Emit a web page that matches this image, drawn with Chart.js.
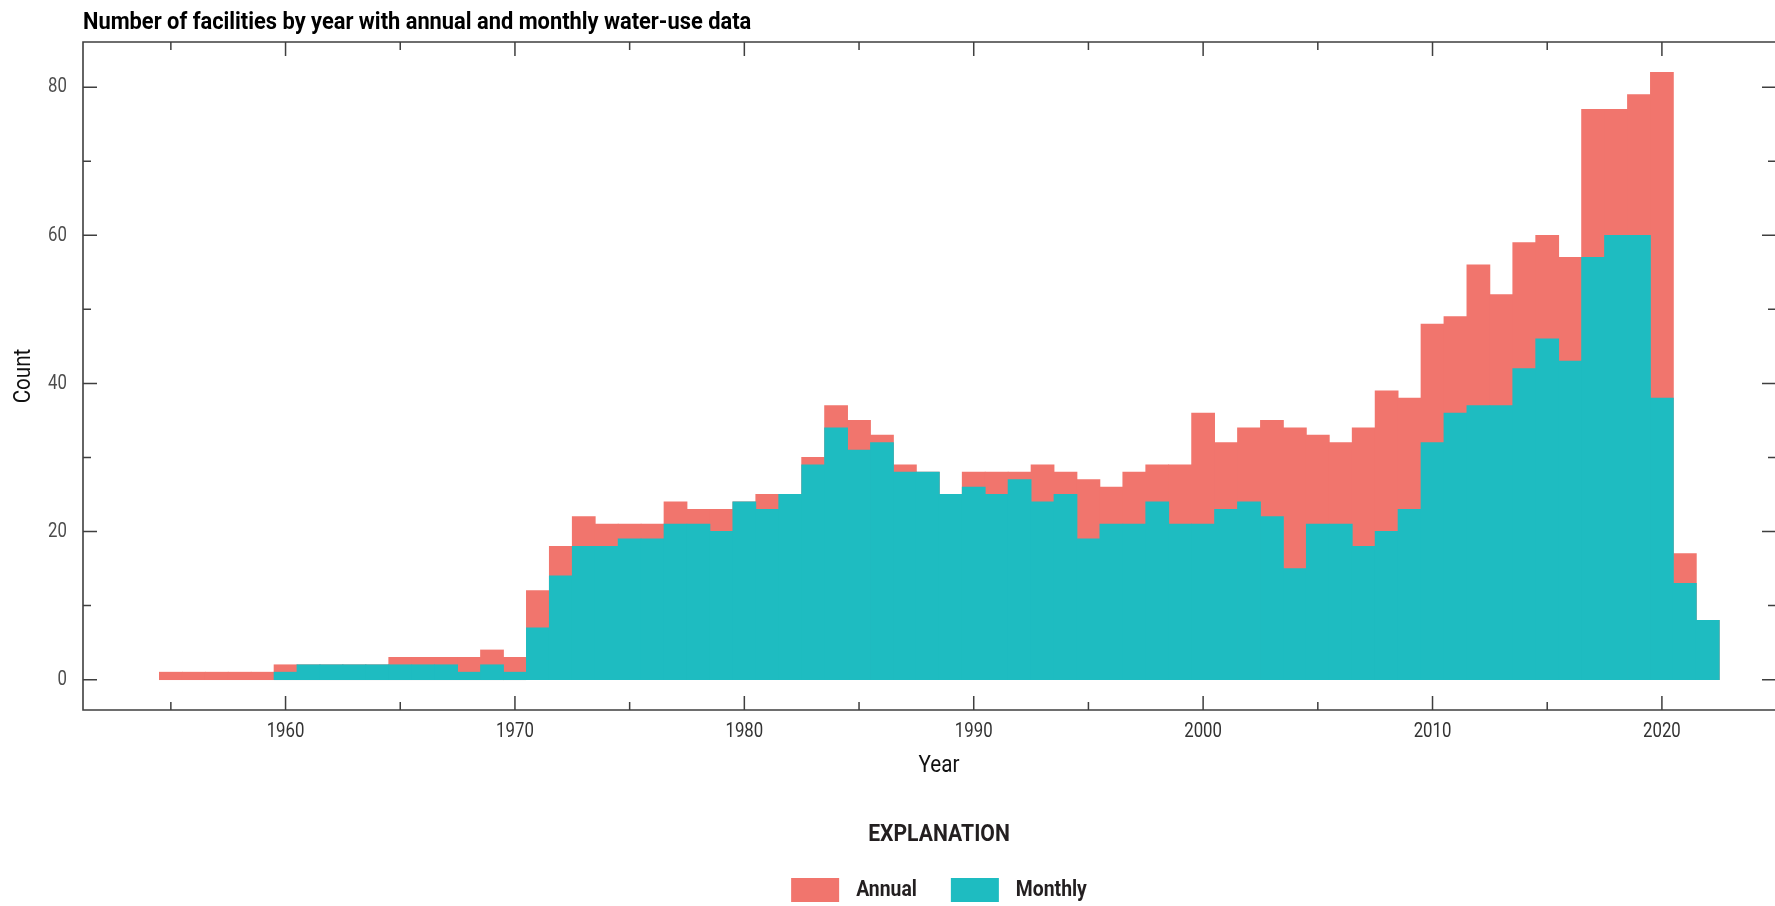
<!DOCTYPE html>
<html>
<head>
<meta charset="utf-8">
<title>Facilities with water-use data by year</title>
<script src="https://cdn.jsdelivr.net/npm/chart.js@4.4.0/dist/chart.umd.min.js"></script>
<style>
  html, body { margin: 0; padding: 0; background: #fff; overflow: hidden; }
  canvas { display: block; }
</style>
</head>
<body>
<canvas id="chart" width="1775" height="906"></canvas>
<script>
// Reporting years (one bar per year)
const years = [
  1955, 1956, 1957, 1958, 1959, 1960, 1961, 1962, 1963, 1964,
  1965, 1966, 1967, 1968, 1969, 1970, 1971, 1972, 1973, 1974,
  1975, 1976, 1977, 1978, 1979, 1980, 1981, 1982, 1983, 1984,
  1985, 1986, 1987, 1988, 1989, 1990, 1991, 1992, 1993, 1994,
  1995, 1996, 1997, 1998, 1999, 2000, 2001, 2002, 2003, 2004,
  2005, 2006, 2007, 2008, 2009, 2010, 2011, 2012, 2013, 2014,
  2015, 2016, 2017, 2018, 2019, 2020, 2021, 2022
];

// Facilities reporting annual water-use data
const annualCounts = [
  1, 1, 1, 1, 1, 2, 2, 2, 2, 2,
  3, 3, 3, 3, 4, 3, 12, 18, 22, 21,
  21, 21, 24, 23, 23, 24, 25, 25, 30, 37,
  35, 33, 29, 28, 25, 28, 28, 28, 29, 28,
  27, 26, 28, 29, 29, 36, 32, 34, 35, 34,
  33, 32, 34, 39, 38, 48, 49, 56, 52, 59,
  60, 57, 77, 77, 79, 82, 17, 8
];

// Facilities reporting monthly water-use data
const monthlyCounts = [
  0, 0, 0, 0, 0, 1, 2, 2, 2, 2,
  2, 2, 2, 1, 2, 1, 7, 14, 18, 18,
  19, 19, 21, 21, 20, 24, 23, 25, 29, 34,
  31, 32, 28, 28, 25, 26, 25, 27, 24, 25,
  19, 21, 21, 24, 21, 21, 23, 24, 22, 15,
  21, 21, 18, 20, 23, 32, 36, 37, 37, 42,
  46, 43, 57, 60, 60, 38, 13, 8
];

const yearTicks = [1960, 1970, 1980, 1990, 2000, 2010, 2020];
const countTicks = [0, 20, 40, 60, 80];

const seriesNames = ['Annual', 'Monthly'];
const seriesColors = ['#F1756D', '#1EBCC1'];

const chartTitle = 'Number of facilities by year with annual and monthly water-use data';
const xTitle = 'Year';
const yTitle = 'Count';
const legendTitle = 'EXPLANATION';

const FONT = 'Roboto, "DejaVu Sans", sans-serif';
const AXIS_COLOR = '#3f3f3f';
// horizontal squeeze that gives the text a condensed face
const SQUEEZE_TITLE = 0.91;
const SQUEEZE_BOLD = 0.88;
const SQUEEZE_TEXT = 0.86;
const SQUEEZE_DIGITS = 0.8;

function drawText(ctx, text, x, y, font, color, sx, align, rotate) {
  ctx.save();
  ctx.font = font;
  ctx.fillStyle = color;
  ctx.textAlign = align || 'center';
  ctx.textBaseline = 'middle';
  ctx.translate(x, y);
  if (rotate) ctx.rotate(rotate);
  ctx.scale(sx, 1);
  ctx.fillText(text, 0, 0);
  ctx.restore();
}

// Frame and inward-pointing ticks on all four sides, tick labels, titles and explanation box
const decorPlugin = {
  id: 'decor',
  afterDatasetsDraw(chart) {
    const { ctx, chartArea: a, scales: { x, y } } = chart;
    ctx.save();
    ctx.strokeStyle = AXIS_COLOR;
    ctx.lineWidth = 1.6;
    ctx.beginPath();
    ctx.moveTo(a.right + 2, a.top);
    ctx.lineTo(a.left, a.top);
    ctx.lineTo(a.left, a.bottom);
    ctx.lineTo(a.right + 2, a.bottom);
    ctx.stroke();

    const MAJOR = 14, MINOR = 8;
    ctx.lineWidth = 1.5;
    const xMinor = [];
    yearTicks.forEach(v => { xMinor.push(v - 5); xMinor.push(v + 5); });
    const yMinor = [];
    countTicks.forEach(v => { yMinor.push(v - 10); yMinor.push(v + 10); });

    const drawX = (v, len) => {
      if (v < x.min || v > x.max) return;
      const px = x.getPixelForValue(v);
      ctx.beginPath();
      ctx.moveTo(px, a.bottom); ctx.lineTo(px, a.bottom - len);
      ctx.moveTo(px, a.top); ctx.lineTo(px, a.top + len);
      ctx.stroke();
    };
    const drawY = (v, len) => {
      if (v < y.min || v > y.max) return;
      const py = y.getPixelForValue(v);
      ctx.beginPath();
      ctx.moveTo(a.left, py); ctx.lineTo(a.left + len, py);
      ctx.moveTo(a.right + 1, py); ctx.lineTo(a.right + 1 - len, py);
      ctx.stroke();
    };
    [...new Set(xMinor)].filter(v => !yearTicks.includes(v)).forEach(v => drawX(v, MINOR));
    yearTicks.forEach(v => drawX(v, MAJOR));
    [...new Set(yMinor)].filter(v => !countTicks.includes(v)).forEach(v => drawY(v, MINOR));
    countTicks.forEach(v => drawY(v, MAJOR));
    ctx.restore();
  },
  afterDraw(chart) {
    const { ctx, chartArea: a, scales: { x, y } } = chart;

    // Tick labels from the chart's scales
    const tickFont = '21px ' + FONT;
    x.ticks.forEach(t => {
      drawText(ctx, String(t.value), x.getPixelForValue(t.value), a.bottom + 21.5, tickFont, '#333', SQUEEZE_DIGITS, 'center');
    });
    y.ticks.forEach(t => {
      drawText(ctx, String(t.value), a.left - 16, y.getPixelForValue(t.value), tickFont, '#4d4d4d', SQUEEZE_DIGITS, 'right');
    });

    // Chart title
    ctx.save();
    ctx.font = 'bold 24px ' + FONT;
    ctx.fillStyle = '#000';
    ctx.textAlign = 'left';
    ctx.textBaseline = 'alphabetic';
    ctx.translate(a.left, 28.5);
    ctx.scale(SQUEEZE_TITLE, 1);
    ctx.fillText(chartTitle, 0, 0);
    ctx.restore();

    // Axis titles
    const cx = 939;
    const axisFont = '24px ' + FONT;
    drawText(ctx, xTitle, cx, 766, axisFont, '#111', SQUEEZE_TEXT, 'center');
    drawText(ctx, yTitle, 24, (a.top + a.bottom) / 2, axisFont, '#111', SQUEEZE_TEXT, 'center', -Math.PI / 2);

    // Explanation
    drawText(ctx, legendTitle, cx, 835, 'bold 23px ' + FONT, '#231f20', 0.92, 'center');

    const boxW = 48, boxH = 24, gapText = 17, gapItem = 34, rowY = 890;
    const itemFont = 'bold 22px ' + FONT;
    ctx.save();
    ctx.font = itemFont;
    const items = chart.data.datasets
      .slice()
      .sort((p, q) => seriesNames.indexOf(p.label) - seriesNames.indexOf(q.label))
      .map(ds => ({ label: ds.label, color: ds.backgroundColor, w: ctx.measureText(ds.label).width * SQUEEZE_BOLD }));
    ctx.restore();
    let total = 0;
    items.forEach((it, i) => { total += boxW + gapText + it.w + (i < items.length - 1 ? gapItem : 0); });
    let xx = cx - total / 2;
    items.forEach(it => {
      ctx.fillStyle = it.color;
      ctx.fillRect(xx, rowY - boxH / 2, boxW, boxH);
      xx += boxW + gapText;
      drawText(ctx, it.label, xx, rowY, itemFont, '#231f20', SQUEEZE_BOLD, 'left');
      xx += it.w + gapItem;
    });
  }
};

const toPoints = arr => years.map((yr, i) => ({ x: yr, y: arr[i] }));
const inflate = c => (c.raw && c.raw.y === 0 ? 0 : 0.4);

new Chart(document.getElementById('chart'), {
  type: 'bar',
  data: {
    datasets: [
      {
        label: seriesNames[0],
        data: toPoints(annualCounts),
        backgroundColor: seriesColors[0],
        borderWidth: 0,
        grouped: false,
        order: 2,
        categoryPercentage: 1,
        barPercentage: 1,
        inflateAmount: inflate
      },
      {
        label: seriesNames[1],
        data: toPoints(monthlyCounts),
        backgroundColor: seriesColors[1],
        borderWidth: 0,
        grouped: false,
        order: 1,
        categoryPercentage: 1,
        barPercentage: 1,
        inflateAmount: inflate
      }
    ]
  },
  options: {
    responsive: false,
    animation: false,
    devicePixelRatio: 1,
    layout: { padding: { top: 42, left: 0, right: 0, bottom: 0 } },
    plugins: {
      legend: { display: false },
      tooltip: { enabled: false },
      title: { display: false }
    },
    scales: {
      x: {
        type: 'linear',
        min: 1951.17,
        max: 2024.93,
        offset: false,
        grid: { display: false, drawTicks: false },
        border: { display: false },
        afterBuildTicks: s => { s.ticks = yearTicks.map(v => ({ value: v })); },
        afterFit: s => { s.height = 196; },
        ticks: { display: false }
      },
      y: {
        type: 'linear',
        min: -4.1,
        max: 86.1,
        grid: { display: false, drawTicks: false },
        border: { display: false },
        afterBuildTicks: s => { s.ticks = countTicks.map(v => ({ value: v })); },
        afterFit: s => { s.width = 83; },
        ticks: { display: false }
      }
    }
  },
  plugins: [decorPlugin]
});
</script>
</body>
</html>
